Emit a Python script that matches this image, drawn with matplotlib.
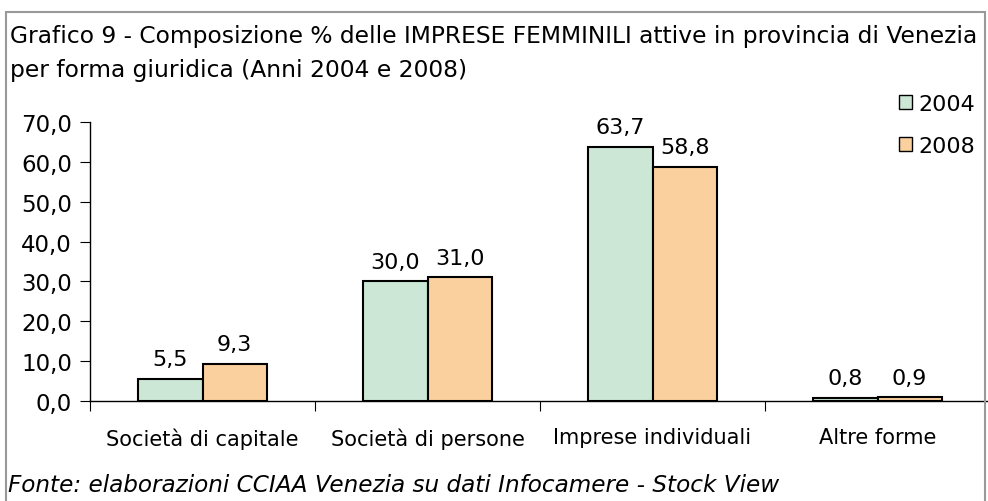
import matplotlib
matplotlib.use("Agg")
import matplotlib.pyplot as plt
from matplotlib.patches import Rectangle, Patch
import numpy as np

# data
categories = ["Società di capitale", "Società di persone", "Imprese individuali", "Altre forme"]
val_2004 = [5.5, 30.0, 63.7, 0.8]
val_2008 = [9.3, 31.0, 58.8, 0.9]
series_labels = ["2004", "2008"]

col_2004 = "#CCE7D5"
col_2008 = "#FBD09F"

plt.rcParams["font.family"] = "DejaVu Sans"

W, H = 988, 502
fig = plt.figure(figsize=(W / 100, H / 100), dpi=100)

# outer frame like the spreadsheet chart area
fig.patches.append(Rectangle((6 / W, -0.05), (985 - 6) / W, (H - 13) / H + 0.05,
                             transform=fig.transFigure, fill=False,
                             edgecolor="#999999", linewidth=1.5))

ax = fig.add_axes([90 / W, (H - 402) / H, 900 / W, 279 / H])

x = np.arange(len(categories))
w = 0.285
b1 = ax.bar(x - w / 2, val_2004, w, color=col_2004, edgecolor="black", linewidth=1.5)
b2 = ax.bar(x + w / 2, val_2008, w, color=col_2008, edgecolor="black", linewidth=1.5)

def fmt(v):
    return f"{v:.1f}".replace(".", ",")

for bars, vals in [(b1, val_2004), (b2, val_2008)]:
    for r, v in zip(bars, vals):
        ax.annotate(fmt(v), (r.get_x() + r.get_width() / 2, v), xytext=(0, 7),
                    textcoords="offset points", ha="center", va="bottom", fontsize=16)

ax.set_xlim(-0.5, len(categories) - 0.5)
ax.set_ylim(0, 70)
ax.set_yticks(np.arange(0, 71, 10))
ax.set_yticklabels([fmt(t) for t in np.arange(0, 71, 10)], fontsize=16.5)

ax.set_xticks(np.arange(len(categories) + 1) - 0.5, minor=False)
ax.set_xticklabels([])
ax.set_xticks(x, minor=True)
ax.set_xticklabels(categories, minor=True, fontsize=15)
ax.tick_params(axis="x", which="minor", length=0, pad=19)
ax.tick_params(axis="x", which="major", length=7, direction="out")
ax.tick_params(axis="y", length=7, direction="out", pad=6)

for s in ["top", "right"]:
    ax.spines[s].set_visible(False)
ax.spines["left"].set_linewidth(1)
ax.spines["bottom"].set_linewidth(1)

fig.text(10 / W, 1 - 37 / H, "Grafico 9 - Composizione % delle IMPRESE FEMMINILI attive in provincia di Venezia",
         fontsize=16.8, va="center", ha="left")
fig.text(10 / W, 1 - 70 / H, "per forma giuridica (Anni 2004 e 2008)",
         fontsize=16.8, va="center", ha="left")

handles = [Patch(facecolor=col_2004, edgecolor="black"), Patch(facecolor=col_2008, edgecolor="black")]
fig.legend(handles, series_labels, loc="upper left", bbox_to_anchor=(899 / W, 1 - 95 / H),
           frameon=False, fontsize=16, handlelength=0.6, handleheight=0.6,
           handletextpad=0.25, labelspacing=1.0, borderpad=0, borderaxespad=0)

fig.text(8 / W, 1 - 486 / H, "Fonte: elaborazioni CCIAA Venezia su dati Infocamere - Stock View",
         fontsize=16.7, style="italic", va="center", ha="left")

plt.savefig("out.png", dpi=100)
